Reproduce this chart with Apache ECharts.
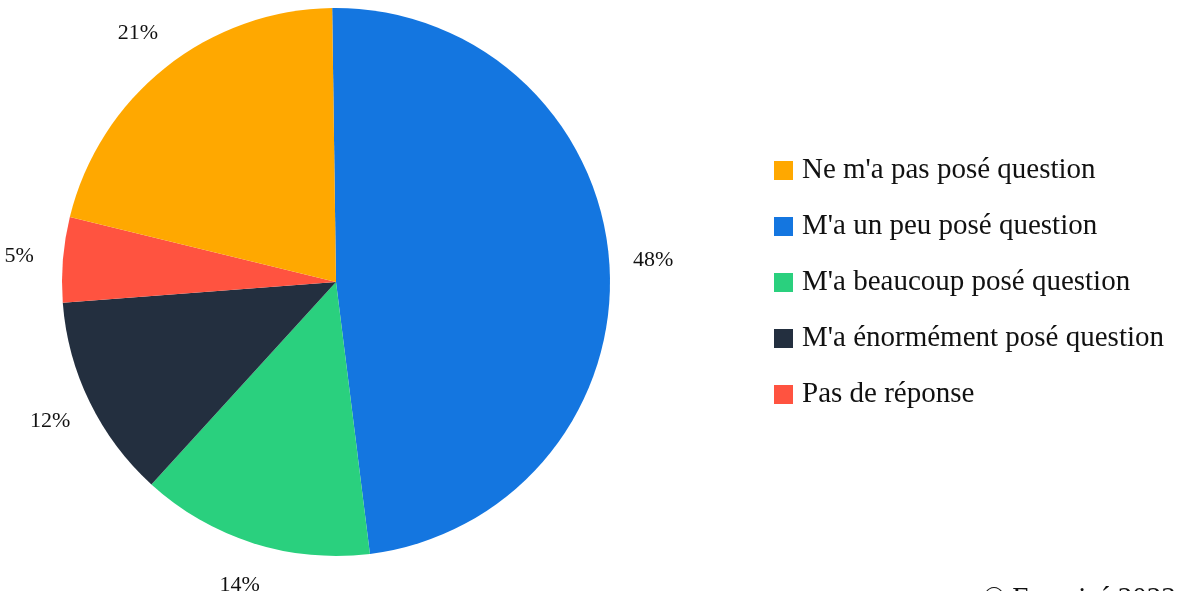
<!DOCTYPE html>
<html>
<head>
<meta charset="utf-8">
<script src="https://cdn.jsdelivr.net/npm/echarts@6/dist/echarts.min.js"></script>
<style>
	html, body { margin: 0; padding: 0; background: #fff; }
	#pie-chart { width: 1186px; height: 591px; }
</style>
</head>
<body>
<div id="pie-chart"></div>
<script>
// pie order (clockwise from top)
var categories = ['M\'a un peu posé question', 'M\'a beaucoup posé question', 'M\'a énormément posé question', 'Pas de réponse', 'Ne m\'a pas posé question'];
var values = [48.1, 13.7, 12.0, 5.0, 20.9];
var colors = ['#1476e0', '#2ad07e', '#232f3f', '#ff5340', '#ffa800'];
// legend order
var legendOrder = ['Ne m\'a pas posé question', 'M\'a un peu posé question', 'M\'a beaucoup posé question', 'M\'a énormément posé question', 'Pas de réponse'];

var font = '"Liberation Serif", "DejaVu Serif", serif';

var pieData = categories.map(function(c, i) {
	return { name: c, value: values[i] };
});

var option = {
	animation: false,
	color: colors,
	legend: {
		orient: 'vertical',
		left: 769,
		top: 151,
		icon: 'rect',
		itemWidth: 19,
		itemHeight: 19,
		itemGap: 27,
		data: legendOrder,
		textStyle: {
			fontFamily: font,
			fontSize: 29,
			lineHeight: 26,
			color: '#111',
			padding: [0, 0, 0, 4]
		}
	},
	graphic: [{
		type: 'text',
		left: 983,
		top: 585,
		style: {
			text: '© Francisé 2023',
			font: '29px ' + font,
			fill: '#111'
		}
	}],
	series: [{
		type: 'pie',
		center: [336, 282],
		radius: 274,
		startAngle: 90.8,
		clockwise: true,
		data: pieData,
		label: { show: false },
		labelLine: { show: false },
		itemStyle: { borderWidth: 0 }
	}, {
		// transparent ring, only carries the percentage labels
		type: 'pie',
		silent: true,
		legendHoverLink: false,
		center: [336, 282],
		radius: [274, 356],
		startAngle: 90.8,
		clockwise: true,
		data: pieData,
		itemStyle: { color: 'transparent', borderWidth: 0 },
		label: {
			show: true,
			position: 'inside',
			formatter: function(p) {
				return Math.round(p.percent) + '%';
			},
			fontFamily: font,
			fontSize: 22,
			color: '#111'
		},
		labelLine: { show: false },
		emphasis: { disabled: true }
	}]
};

var pieChart = echarts.init(document.getElementById('pie-chart'));
pieChart.setOption(option);
</script>
</body>
</html>
